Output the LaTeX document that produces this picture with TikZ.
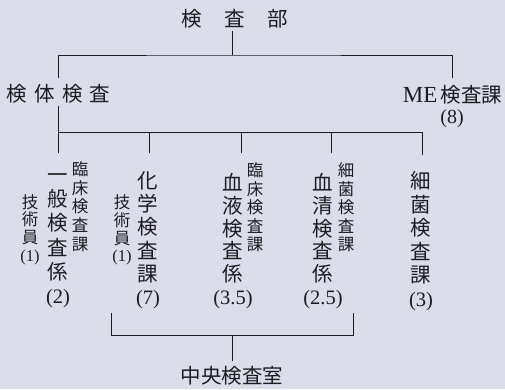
\documentclass[tikz,border=0pt]{standalone}
\usepackage{fontspec}
\setmainfont{Liberation Serif}
\newfontfamily\cjk{Noto Sans CJK JP}
\definecolor{bg}{RGB}{220,221,234}
\definecolor{ink}{RGB}{28,28,34}
\newcommand\vq{\vphantom{検}}
\begin{document}
\begin{tikzpicture}[x=1bp,y=-1bp,
  lbl/.style={text=ink, inner xsep=1bp, inner ysep=2.5bp, font=\cjk\fontsize{20.5bp}{24bp}\selectfont},
  bigst/.style={text=ink, inner sep=1bp, align=center, font=\cjk\fontsize{20.5bp}{#1}\selectfont},
  smallst/.style={text=ink, inner sep=1bp, align=center, font=\cjk\fontsize{16.5bp}{#1}\selectfont},
  conn/.style={draw=ink, line width=0.9bp}]
\useasboundingbox (0,0) rectangle (505,389);
\fill[bg] (0,0) rectangle (505,389);

% top level
\node[lbl] (bu) at (234.5,19) {検\hspace{1.1em}査\hspace{1.1em}部};
\node[lbl] (kentai) at (58.5,94) {検\hspace{0.35em}体\hspace{0.35em}検\hspace{0.35em}査};
\node[lbl] (me) at (452.5,95) {{\rmfamily\fontsize{23bp}{24bp}\selectfont ME}\hspace{0.15em}検査課};
\node[lbl, font=\rmfamily\fontsize{20bp}{22bp}\selectfont] (me8) at (452,119) {(8)};

% columns
\node[bigst=24.2bp] (c1) at (58,236.5) {\vq 一\\般\\検\\査\\係\\{\rmfamily(2)}\vq};
\node[smallst=17.7bp] (s1a) at (30,229.5) {\vq 技\\術\\員\\{\rmfamily(1)}\vq};
\node[smallst=18.7bp] (s1b) at (80,206.5) {\vq 臨\\床\\検\\査\\課\vq};

\node[bigst=23.2bp] (c2) at (148,240) {\vq 化\\学\\検\\査\\課\\{\rmfamily(7)}\vq};
\node[smallst=17.7bp] (s2a) at (122,230) {\vq 技\\術\\員\\{\rmfamily(1)}\vq};

\node[bigst=22.8bp] (c3) at (233,241) {\vq 血\\液\\検\\査\\係\\{\rmfamily(3.5)}\vq};
\node[smallst=18.5bp] (s3b) at (255,207.5) {\vq 臨\\床\\検\\査\\課\vq};

\node[bigst=22.8bp] (c4) at (323,241) {\vq 血\\清\\検\\査\\係\\{\rmfamily(2.5)}\vq};
\node[smallst=18.5bp] (s4b) at (346,207.5) {\vq 細\\菌\\検\\査\\課\vq};

\node[bigst=23.6bp] (c5) at (421,241) {\vq 細\\菌\\検\\査\\課\\{\rmfamily(3)}\vq};

\node[lbl, inner ysep=5bp] (chuo) at (232,376) {中央検査室};

% connectors
\coordinate (j0) at (232,55);
\coordinate (kA) at (58,78);
\coordinate (meA) at (452,78);
\draw[conn] (bu.south -| j0) -- (j0);
\draw[conn] (kA) |- (j0) -| (meA);

\coordinate (b1) at (58,132);
\coordinate (t1) at (58,153);
\coordinate (t2) at (149,153);
\coordinate (t3) at (241,153);
\coordinate (t4) at (331,153);
\coordinate (t5) at (422,155);
\draw[conn] (kentai.south -| t1) -- (t1);
\draw[conn] (t1 |- b1) -| (t5);
\foreach \n in {2,3,4} \draw[conn] (t\n |- b1) -- (t\n);

\coordinate (k1) at (111,313);
\coordinate (k2) at (353,313);
\coordinate (km) at (232,335);
\draw[conn] (k1) |- (km) -| (k2);
\draw[conn] (km) -- (chuo);
\end{tikzpicture}
\end{document}
